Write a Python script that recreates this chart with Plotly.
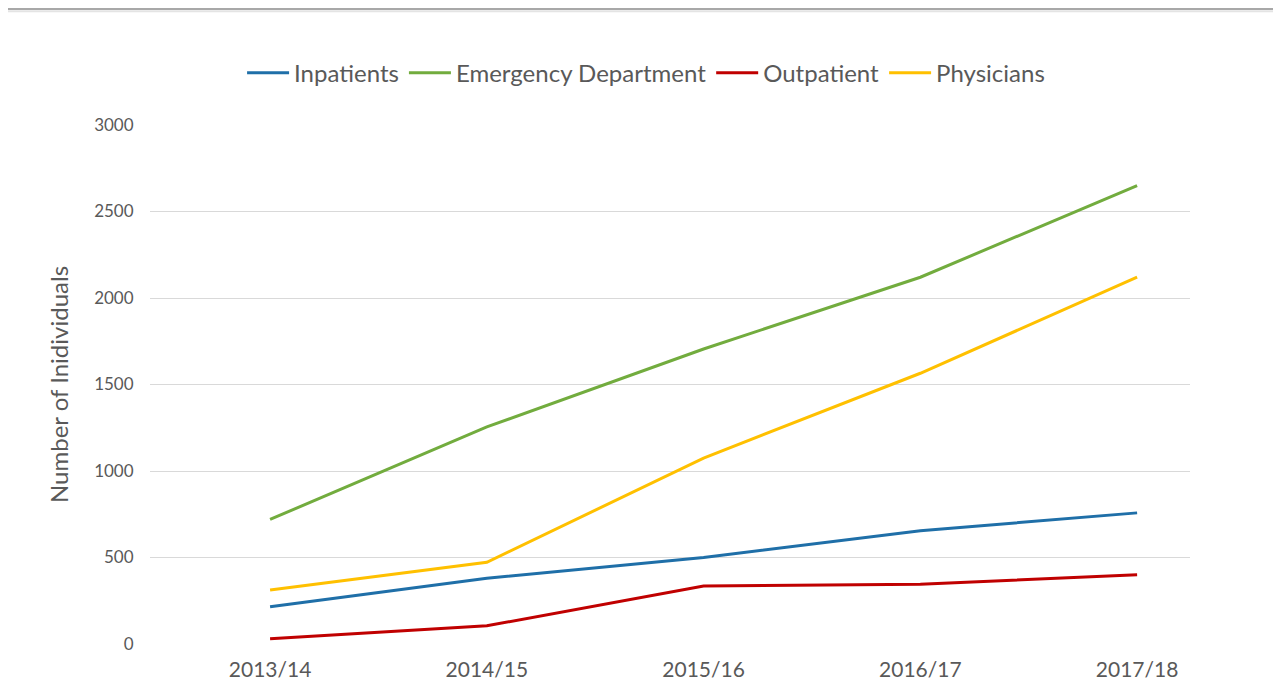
import plotly.graph_objects as go

years = ["2013/14", "2014/15", "2015/16", "2016/17", "2017/18"]
inpatients = [215, 380, 500, 655, 758]
emergency = [720, 1255, 1705, 2120, 2650]
outpatient = [30, 105, 335, 345, 400]
physicians = [312, 472, 1075, 1565, 2120]

series = [
    ("Inpatients", inpatients, "#1F6FA8"),
    ("Emergency Department", emergency, "#72AC3E"),
    ("Outpatient", outpatient, "#C00000"),
    ("Physicians", physicians, "#FFC000"),
]

fig = go.Figure()
for name, vals, col in series:
    fig.add_trace(go.Scatter(
        x=years, y=vals, mode="lines", name=name,
        line=dict(color=col, width=3),
    ))

# thin grey rule across the top of the picture
fig.add_shape(type="line", xref="paper", yref="paper",
              x0=-0.2, x1=1.2, y0=1.2235, y1=1.2235,
              line=dict(color="#A8A8A8", width=2))
fig.add_shape(type="line", xref="paper", yref="paper",
              x0=-0.2, x1=1.2, y0=1.219, y1=1.219,
              line=dict(color="#E4E4E4", width=2))

fig.update_layout(
    width=1281, height=694,
    margin=dict(l=142, r=99, t=117, b=58),
    paper_bgcolor="white", plot_bgcolor="white",
    font=dict(family="Lato, Open Sans, sans-serif", color="#595959", size=16),
    legend=dict(orientation="h", x=0.477, xanchor="center", y=1.10, yanchor="middle",
                font=dict(size=24, color="#595959"), itemwidth=42),
    xaxis=dict(type="category", range=[-0.554, 4.244], showgrid=False,
               showline=False, ticks="outside", ticklen=7, tickcolor="rgba(0,0,0,0)",
               tickfont=dict(size=21)),
    yaxis=dict(range=[0, 3000], dtick=500, gridcolor="#D9D9D9", gridwidth=1,
               zeroline=False, showline=False, ticks="outside", ticklen=12,
               tickcolor="rgba(0,0,0,0)", tickfont=dict(size=17),
               title=dict(text="Number of Inidividuals", font=dict(size=24), standoff=18)),
)

fig.write_html("out.html")
